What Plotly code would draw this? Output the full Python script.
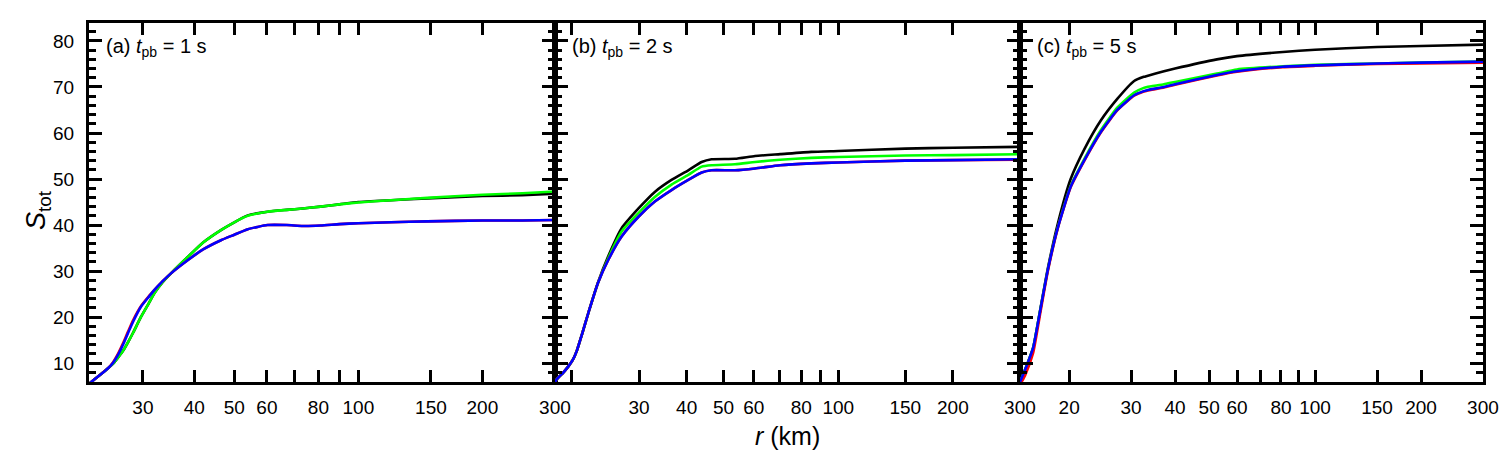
import math
import plotly.graph_objects as go

# ---------------- data ----------------
# Panel (a): t_pb = 1 s
r_a = [22.2, 22.9, 23.8, 24.7, 25.4, 26.1, 27.0, 27.6, 28.4, 29.7, 31.0, 32.0, 33.5, 35.1, 38.6,
       42, 46.4, 50, 53.9, 60.2, 67, 73.3, 81, 90, 100, 120, 147, 200, 250, 300]
S_a_black = [5.5, 6.5, 7.7, 8.9, 9.9, 11.2, 13.0, 14.5, 16.6, 20.1, 23.0, 25.2, 27.6, 29.5, 33.1,
             36.2, 38.9, 40.6, 42.1, 42.9, 43.3, 43.6, 44.0, 44.5, 45.0, 45.4, 45.8, 46.3, 46.5, 46.8]
S_a_green = [5.5, 6.5, 7.7, 8.9, 9.9, 11.2, 13.0, 14.5, 16.6, 20.1, 23.0, 25.2, 27.6, 29.5, 33.1,
             36.2, 38.9, 40.6, 42.0, 42.9, 43.3, 43.6, 44.0, 44.5, 44.9, 45.4, 45.9, 46.6, 46.9, 47.3]
S_a_red = [5.5, 6.5, 7.7, 8.9, 10.2, 12.0, 14.8, 16.8, 19.3, 22.4, 24.5, 25.9, 27.8, 29.5, 32.4,
           34.7, 36.7, 37.9, 39.1, 40.0, 40.0, 39.8, 39.9, 40.2, 40.4, 40.6, 40.8, 41.0, 41.0, 41.1]
S_a_blue = [5.5, 6.5, 7.7, 8.9, 10.1, 11.8, 14.5, 16.5, 19.0, 22.3, 24.4, 25.9, 27.8, 29.5, 32.4,
            34.7, 36.7, 37.9, 39.1, 40.0, 40.0, 39.8, 39.9, 40.2, 40.4, 40.6, 40.8, 41.0, 41.0, 41.1]

# Panel (b): t_pb = 2 s
r_b = [18.05, 18.2, 18.9, 19.57, 20.1, 20.58, 21.2, 22.1, 23.4, 24.9, 27.0, 29.9, 33.0, 36.5,
       40.4, 43.8, 46.5, 53.6, 60.5, 70.4, 85, 100, 150, 200, 300]
S_b_black = [5.8, 6.4, 7.8, 9.3, 10.7, 12.6, 16.0, 21.0, 27.5, 33.2, 39.3, 43.6, 47.2, 49.8,
             51.9, 53.7, 54.3, 54.4, 55.0, 55.4, 55.9, 56.1, 56.6, 56.8, 57.0]
S_b_green = [5.8, 6.4, 7.8, 9.3, 10.7, 12.6, 16.0, 21.0, 27.4, 32.8, 38.6, 42.6, 46.1, 48.8,
             50.9, 52.7, 53.0, 53.2, 53.7, 54.2, 54.6, 54.8, 55.1, 55.2, 55.4]
S_b_red = [5.8, 6.4, 7.8, 9.3, 10.7, 12.6, 16.0, 21.0, 27.4, 32.4, 37.5, 41.8, 45.1, 47.6,
           49.8, 51.4, 51.9, 51.9, 52.3, 53.0, 53.4, 53.6, 54.0, 54.1, 54.2]
S_b_blue = [5.8, 6.4, 7.8, 9.3, 10.7, 12.6, 16.0, 21.0, 27.4, 32.4, 37.5, 41.8, 45.1, 47.6,
            49.8, 51.4, 51.9, 51.9, 52.3, 53.0, 53.4, 53.6, 54.0, 54.1, 54.3]

# Panel (c): t_pb = 5 s
r_c = [14.5, 15.0, 15.8, 16.5, 17.4, 18.6, 20.2, 22.1, 24.6, 27.4, 30.6, 32.6, 33.3, 37.2, 40,
       52.6, 60, 81, 100, 150, 200, 300]
S_c_black = [5.9, 8.6, 13.3, 21.0, 30.6, 40.5, 50.0, 56.5, 62.7, 67.4, 71.3, 72.2, 72.4, 73.4, 74.0,
             76.0, 76.7, 77.6, 78.1, 78.7, 78.9, 79.2]
S_c_green = [5.9, 8.6, 13.3, 20.9, 30.3, 39.7, 48.5, 54.4, 60.6, 65.5, 68.8, 69.8, 70.0, 70.6, 71.1,
             72.9, 73.8, 74.5, 74.8, 75.1, 75.3, 75.5]
S_c_red = [5.3, 7.4, 12.2, 20.2, 30.0, 39.5, 48.2, 54.0, 60.1, 64.9, 68.1, 69.0, 69.2, 69.9, 70.5,
           72.5, 73.3, 74.3, 74.6, 75.0, 75.1, 75.3]
S_c_blue = [5.9, 8.6, 13.3, 20.9, 30.3, 39.6, 48.3, 54.1, 60.2, 65.0, 68.2, 69.1, 69.3, 70.0, 70.6,
            72.6, 73.4, 74.4, 74.7, 75.1, 75.3, 75.5]

panel_labels = ["(a) <i>t</i><sub>pb</sub> = 1 s",
                "(b) <i>t</i><sub>pb</sub> = 2 s",
                "(c) <i>t</i><sub>pb</sub> = 5 s"]
x_min = [22.2, 18.05, 14.5]
x_max = 300
# labelled x ticks per panel, and unlabelled x ticks per panel
tick_vals_a = [30, 40, 50, 60, 80, 100, 150, 200, 300]
tick_vals_b = [30, 40, 50, 60, 80, 100, 150, 200, 300]
tick_vals_c = [20, 30, 40, 50, 60, 80, 100, 150, 200, 300]
bare_ticks_a = [70, 90]
bare_ticks_b = [20, 70, 90]
bare_ticks_c = [70, 90]
y_range = [5.9, 83.9]
y_tick_vals = [10, 20, 30, 40, 50, 60, 70, 80]

series_colors = {"black": "#000000", "green": "#00ff00", "red": "#ff0000", "blue": "#0000ff"}

# ---------------- figure ----------------
fig = go.Figure()

panel_data = [
    (r_a, {"black": S_a_black, "green": S_a_green, "red": S_a_red, "blue": S_a_blue}),
    (r_b, {"black": S_b_black, "green": S_b_green, "red": S_b_red, "blue": S_b_blue}),
    (r_c, {"black": S_c_black, "green": S_c_green, "red": S_c_red, "blue": S_c_blue}),
]

for i, (r, series) in enumerate(panel_data):
    sfx = "" if i == 0 else str(i + 1)
    for name in ["black", "green", "red", "blue"]:
        fig.add_trace(go.Scatter(
            x=r, y=series[name], mode="lines",
            line=dict(color=series_colors[name], width=2.6, shape="spline", smoothing=0.5),
            xaxis="x" + sfx, yaxis="y" + sfx, showlegend=False, hoverinfo="skip"))

bounds = [89, 555, 1020, 1483]
W_l, W_r = bounds[0], 1500 - bounds[-1]
plot_w = bounds[-1] - bounds[0]
domains = [[(bounds[k] - bounds[0]) / plot_w, (bounds[k + 1] - bounds[0]) / plot_w] for k in range(3)]
tick_vals = [tick_vals_a, tick_vals_b, tick_vals_c]
bare_ticks = [bare_ticks_a, bare_ticks_b, bare_ticks_c]

font_family = "Liberation Sans, Arial, sans-serif"
tick_font = dict(family=font_family, size=19, color="black")

layout = dict(
    width=1500, height=450,
    margin=dict(l=W_l, r=W_r, t=23, b=68, autoexpand=False),
    paper_bgcolor="white", plot_bgcolor="white",
    font=dict(family=font_family, color="black"),
)

for i in range(3):
    sfx = "" if i == 0 else str(i + 1)
    layout["xaxis" + sfx] = dict(
        type="log", domain=domains[i],
        range=[math.log10(x_min[i]), math.log10(x_max) + 1e-4],
        tickmode="array", tickvals=tick_vals[i], ticktext=[str(v) for v in tick_vals[i]],
        ticks="inside", ticklen=12, tickwidth=2.5, tickcolor="black",
        minor=dict(tickmode="array", tickvals=bare_ticks[i], ticks="inside", ticklen=12,
                   tickwidth=2.5, tickcolor="black", showgrid=False),
        showline=True, linewidth=3, linecolor="black", mirror="ticks",
        showgrid=False, zeroline=False, tickfont=tick_font, automargin=False,
        ticklabeloverflow="allow",
        anchor="y" + sfx, ticklabelstandoff=6,
    )
    layout["yaxis" + sfx] = dict(
        range=y_range, tickmode="array", tickvals=y_tick_vals,
        ticks="inside", ticklen=13, tickwidth=2.5, tickcolor="black",
        minor=dict(dtick=2, tick0=0, ticks="inside", ticklen=7, tickwidth=2.5, tickcolor="black"),
        showline=True, linewidth=3, linecolor="black", mirror="ticks",
        showgrid=False, zeroline=False, tickfont=tick_font, automargin=False,
        showticklabels=(i == 0), anchor="x" + sfx, ticklabelstandoff=8,
    )

annotations = []
for i in range(3):
    annotations.append(dict(
        text=panel_labels[i], xref="paper", yref="paper",
        x=(bounds[i] - bounds[0] + 15) / plot_w, y=(382 - 48) / 359,
        xanchor="left", yanchor="middle", showarrow=False,
        font=dict(family=font_family, size=20, color="black")))
annotations.append(dict(
    text="<i>r</i> (km)", xref="paper", yref="paper", x=(787 - bounds[0]) / plot_w,
    y=(382 - 436) / 359, xanchor="center", yanchor="middle", showarrow=False,
    font=dict(family=font_family, size=25, color="black")))
annotations.append(dict(
    text="<i>S</i><sub>tot</sub>", xref="paper", yref="paper", x=(38 - bounds[0]) / plot_w,
    y=(382 - 210) / 359, xanchor="center", yanchor="middle", textangle=-90, showarrow=False,
    font=dict(family=font_family, size=27, color="black")))
layout["annotations"] = annotations

fig.update_layout(**layout)
fig.write_html("out.html")
